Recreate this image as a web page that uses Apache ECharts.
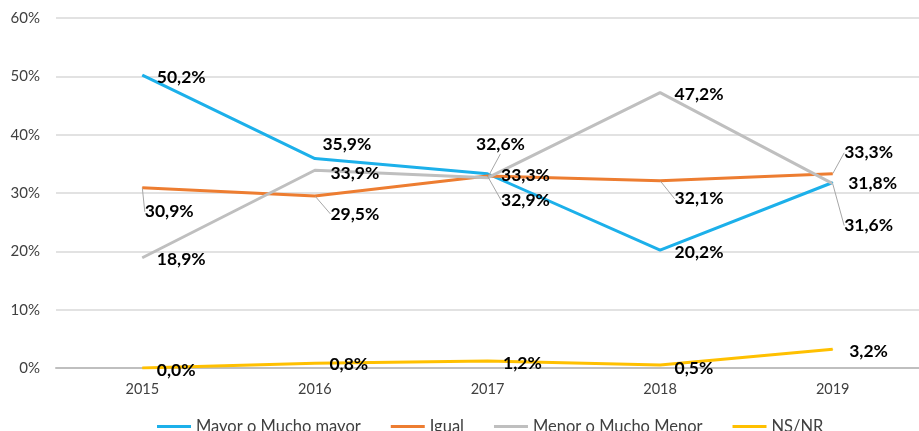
<!DOCTYPE html>
<html>
<head>
<meta charset="utf-8">
<script src="https://cdn.jsdelivr.net/npm/echarts@6/dist/echarts.min.js"></script>
<style>
  html, body { margin: 0; padding: 0; background: #fff; }
  #chart { width: 919px; height: 431px; }
</style>
</head>
<body>
<div id="chart"></div>
<script>
var years = ['2015', '2016', '2017', '2018', '2019'];
var mayor = [50.2, 35.9, 33.3, 20.2, 31.8];
var igual = [30.9, 29.5, 32.9, 32.1, 33.3];
var menor = [18.9, 33.9, 32.6, 47.2, 31.6];
var nsnr = [0.0, 0.8, 1.2, 0.5, 3.2];

// label shifts per point: [dx, dy] from the point, label drawn to the right
var shifts = [
    [[14, 2], [7, -14], [13, 2], [14, 2], [15, 1]],
    [[2, 24], [15, 18], [13, 24], [14, 18], [11, -21]],
    [[14, 2], [15, 3], [-12, -33], [14, 2], [11, 42]],
    [[14, 2], [14, 1], [15, 2], [14, 3], [16, 2]]
];
var leaders = [
    [false, false, false, false, false],
    [true, true, true, true, true],
    [false, false, true, false, true],
    [false, false, false, false, false]
];

var myChart = echarts.init(document.getElementById('chart'));

function makeSeries(name, values, color, idx) {
    return {
        name: name,
        type: 'line',
        data: values.map(function (v, i) {
            return { value: v, labelLine: { show: leaders[idx][i] } };
        }),
        symbol: 'circle',
        symbolSize: 1,
        showSymbol: true,
        lineStyle: { color: color, width: 3 },
        itemStyle: { color: color },
        label: {
            show: true,
            position: 'right',
            distance: 0,
            color: '#000',
            fontFamily: 'Lato',
            fontWeight: 'bold',
            fontSize: 17.5,
            formatter: function (p) {
                return p.value.toFixed(1).replace('.', ',') + '%';
            }
        },
        labelLine: {
            lineStyle: { color: '#a6a6a6', width: 1 }
        },
        labelLayout: function (p) {
            var s = shifts[idx][p.dataIndex];
            return { dx: s[0], dy: s[1] };
        },
        emphasis: { disabled: true },
        animation: false
    };
}

myChart.setOption({
    animation: false,
    grid: { left: 56, top: 18, width: 872, height: 350 },
    legend: {
        left: 152,
        top: 413,
        icon: 'rect',
        itemWidth: 34,
        itemHeight: 3,
        itemGap: 30,
        textStyle: { fontFamily: 'Lato', fontSize: 16.5, color: '#404040' },
        data: ['Mayor o Mucho mayor', 'Igual', 'Menor o Mucho Menor', 'NS/NR']
    },
    xAxis: {
        type: 'category',
        data: years,
        boundaryGap: true,
        axisLine: { lineStyle: { color: '#bfbfbf', width: 2 } },
        axisTick: { show: false },
        axisLabel: { color: '#404040', fontFamily: 'Lato', fontSize: 14.5, margin: 14 }
    },
    yAxis: {
        type: 'value',
        min: 0,
        max: 60,
        interval: 10,
        axisLine: { show: false },
        axisTick: { show: false },
        splitLine: { lineStyle: { color: '#d9d9d9', width: 1.5 } },
        axisLabel: {
            color: '#404040',
            fontFamily: 'Lato',
            fontSize: 15,
            margin: 16,
            formatter: '{value}%'
        }
    },
    series: [
        makeSeries('Mayor o Mucho mayor', mayor, '#1cb0ea', 0),
        makeSeries('Igual', igual, '#ed7d31', 1),
        makeSeries('Menor o Mucho Menor', menor, '#bfbfbf', 2),
        makeSeries('NS/NR', nsnr, '#ffc000', 3)
    ]
});
</script>
</body>
</html>
